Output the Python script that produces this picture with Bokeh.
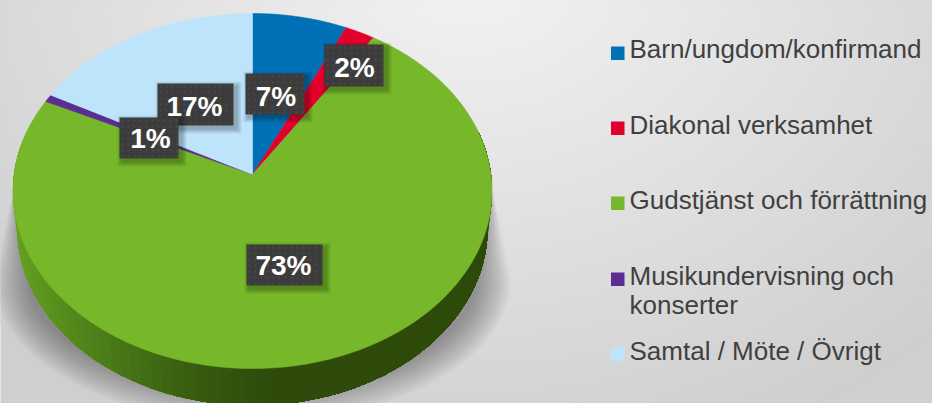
import numpy as np
from bokeh.embed import file_html
from bokeh.resources import INLINE
from bokeh.plotting import figure
from bokeh.models import Range1d
from bokeh.core.properties import value

# ---- chart data ----
categories = ["Barn/ungdom/konfirmand", "Diakonal verksamhet", "Gudstjänst och förrättning",
              "Musikundervisning och\nkonserter", "Samtal / Möte / Övrigt"]
shares = [7.0, 2.2, 72.9, 0.7, 17.2]
slice_colors = ["#0071B6", "#E2002C", "#76B82A", "#5B2D90", "#BDE4FB"]

# ---- layout / style ----
W, H = 932, 403
CX, CY, R, C, A = 252.0, 174.0, 238.5, 0.093, 176.0
DEPTH, WALL_SCALE = 37.0, 0.982
FONT = "Liberation Sans"


def project(theta):
    """Disc angle (clockwise from top) to the picture, in perspective."""
    u, v = np.sin(theta), np.cos(theta)
    k = 1.0 / (1.0 + C * v)
    return CX + R * u * k, CY - A * v * k


p = figure(width=W, height=H, output_backend="svg", toolbar_location=None,
           x_range=Range1d(0, W), y_range=Range1d(H, 0), min_border=0)
p.axis.visible = False
p.grid.visible = False
p.outline_line_color = None
p.background_fill_color = "#cfcfcf"
p.border_fill_color = "#cfcfcf"

# backdrop gradient: concentric ellipses, one grey level each
ta = np.linspace(0, 2 * np.pi, 120)
for level in range(0xCF, 0xF4):
    f = (0xF4 - level) / (0xF4 - 0xCF)
    rx, ry = 660 * f, 520 * f
    col = "#%02x%02x%02x" % (level, level, level)
    p.patch(470 + rx * np.cos(ta), -40 + ry * np.sin(ta), fill_color=col, line_color=None)

# soft shadow under the pie
for i in range(12):
    t = np.linspace(0, np.pi, 90)
    rx, ry = 258 - 3.0 * i, 142 - 3.0 * i
    xs = np.r_[492 - 0.3 * i, CX + rx * np.cos(t), 13 + 0.3 * i]
    ys = np.r_[188.0, 280 + ry * np.sin(t), 188.0]
    p.patch(xs, ys, fill_color="#000000", fill_alpha=0.032, line_color=None)

# side wall, shaded across its width, painted from left to right
stops_x = [12, 60, 120, 190, 260, 500]
stops_r = [0x66, 0x55, 0x47, 0x38, 0x2F, 0x2E]
stops_g = [0xA0, 0x8C, 0x74, 0x5C, 0x4C, 0x4A]
stops_b = [0x22, 0x1C, 0x17, 0x10, 0x0C, 0x0B]
rim = np.linspace(np.pi * 1.58, np.pi * 0.42, 240)
rx_, ry_ = project(rim)
low_x = CX + (rx_ - CX) * WALL_SCALE
low_y = ry_ + DEPTH
for i in range(0, len(rim) - 1, 3):
    m = rx_[i]
    col = "#%02x%02x%02x" % (int(np.interp(m, stops_x, stops_r)),
                             int(np.interp(m, stops_x, stops_g)),
                             int(np.interp(m, stops_x, stops_b)))
    p.patch(np.r_[rx_[i:], low_x[i:][::-1]], np.r_[ry_[i:], low_y[i:][::-1]],
            fill_color=col, line_color=None)

# top face
edges = np.r_[0, np.cumsum(shares)] / np.sum(shares) * 2 * np.pi
for a0, a1, col in zip(edges[:-1], edges[1:], slice_colors):
    t = np.linspace(a0, a1, max(4, int((a1 - a0) * 60)))
    x, y = project(t)
    p.patch(np.r_[CX, x], np.r_[CY, y], fill_color=col, line_color=col, line_width=0.5)

# data labels: left, right, top, bottom of box; text centre; baseline
boxes = [(245, 304, 73, 114, 275.5, 106),
         (324, 383, 44, 86, 354, 77),
         (246, 322, 244, 285, 283, 275),
         (119, 178, 117, 158, 150, 148),
         (157, 233, 83, 125, 194, 116)]
draw_order = [0, 1, 2, 4, 3]
for idx in draw_order:
    l, r, tp, b, tx, ty = boxes[idx]
    for s in (5, 4, 3, 2, 1):
        p.quad(left=l + 3 - s, right=r + 3 + s, top=tp + 3 - s, bottom=b + 3 + s,
               fill_color="#000000", fill_alpha=0.055, line_color=None)
    p.quad(left=l, right=r, top=tp, bottom=b, fill_color="#3C3C3C", line_color=None)
    dx, dy = np.meshgrid(np.arange(l + 3, r - 1, 6.0), np.arange(tp + 3, b - 1, 6.0))
    p.scatter(dx.ravel(), dy.ravel(), size=1.8, fill_color="#4E4E4E", line_color=None)
    p.text([tx], [ty], text=[f"{round(shares[idx])}%"], text_color="#FFFFFF",
           text_font=value(FONT), text_font_size="28px", text_font_style="bold",
           text_align="center", text_baseline="alphabetic", y_offset=-10)

# legend
sq_tops = [46, 121, 196, 272, 347]
baselines = [[59], [135], [210], [286, 315], [361]]
for name, col, st, bl in zip(categories, slice_colors, sq_tops, baselines):
    p.quad(left=610.5, right=624, top=st, bottom=st + 13.5, fill_color=col, line_color=None)
    for line, yy in zip(name.split("\n"), bl):
        p.text([629], [yy], text=[line], text_color="#404040", text_font=value(FONT),
               text_font_size="26px", text_align="left", text_baseline="alphabetic", y_offset=-11)

open("out.html", "w").write(file_html(p, INLINE))
